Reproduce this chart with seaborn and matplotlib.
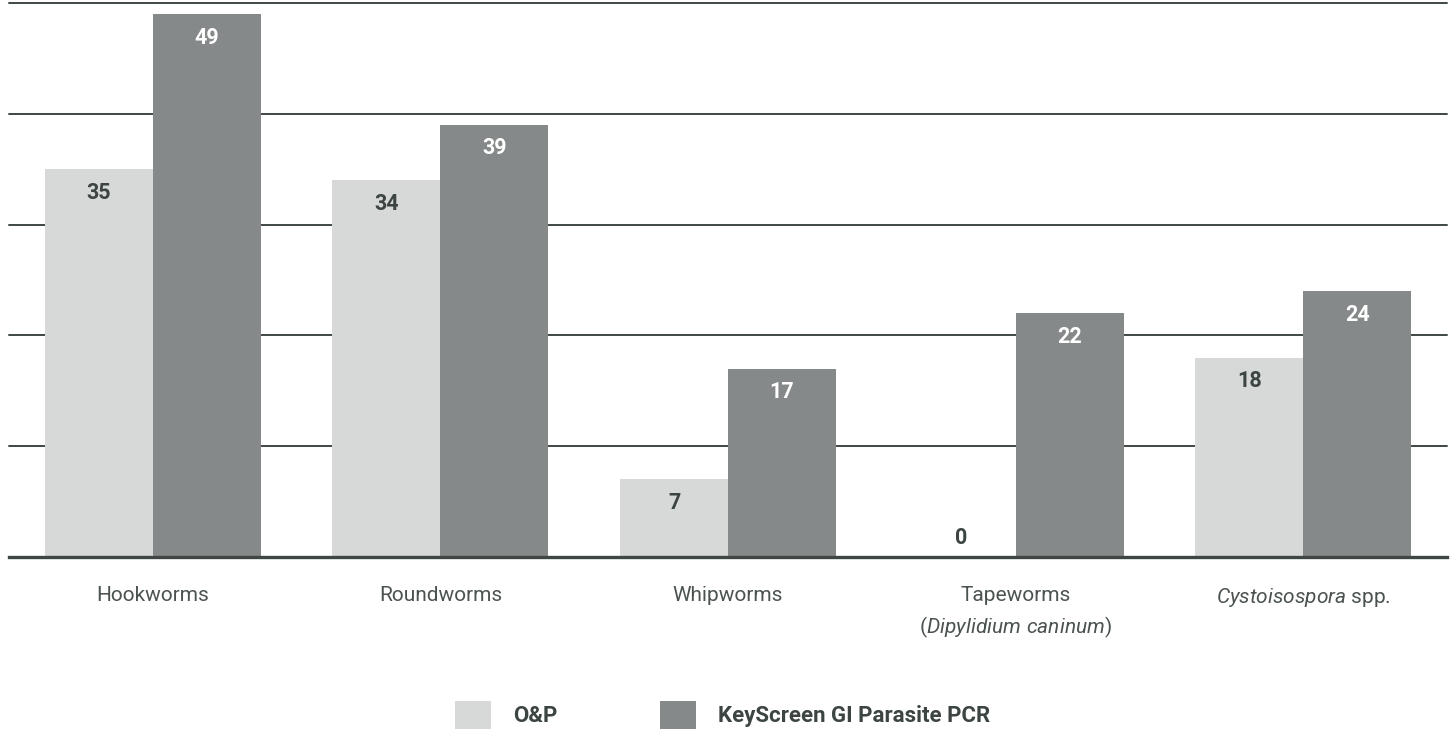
import numpy as np
import pandas as pd
import seaborn as sns
import matplotlib.pyplot as plt
from matplotlib.patches import Patch

categories = ["Hookworms", "Roundworms", "Whipworms",
              "Tapeworms\n($\\mathit{Dipylidium\\ caninum}$)",
              "$\\mathit{Cystoisospora}$ spp."]
methods = ["O&P", "KeyScreen GI Parasite PCR"]
op_values = [35, 34, 7, 0, 18]
pcr_values = [49, 39, 17, 22, 24]
yticks = [0, 10, 20, 30, 40, 50]

light = "#d7d9d8"
dark = "#868989"
text_dark = "#3c4541"
grid_col = "#3f4744"

sns.set_theme(style="white")
plt.rcParams["font.family"] = ["Roboto", "DejaVu Sans"]
plt.rcParams["mathtext.fontset"] = "custom"
plt.rcParams["mathtext.rm"] = "Roboto"
plt.rcParams["mathtext.it"] = "Roboto:italic"

df = pd.DataFrame({
    "cat": categories * 2,
    "method": [methods[0]] * 5 + [methods[1]] * 5,
    "value": op_values + pcr_values,
})

fig = plt.figure(figsize=(14.53, 7.33), dpi=100)
ax = fig.add_axes([9 / 1453, 1 - 557 / 733, 1438 / 1453, 554 / 733])

sns.barplot(data=df, x="cat", y="value", hue="method", palette=[light, dark],
            width=0.751, saturation=1, ax=ax, legend=False, errorbar=None,
            linewidth=0, edgecolor="none")

ax.set_ylim(0, 50)
ax.set_xlim(-0.5, 4.5)
for y in yticks[1:]:
    ax.axhline(y, color=grid_col, lw=1.4, zorder=0, clip_on=False)
for s in ["top", "right", "left"]:
    ax.spines[s].set_visible(False)
ax.spines["bottom"].set_color(grid_col)
ax.spines["bottom"].set_linewidth(2.4)
ax.spines["bottom"].set_zorder(5)
ax.set_yticks([])
ax.set_xlabel("")
ax.set_ylabel("")
ax.tick_params(axis="x", length=0, pad=21, labelsize=15, labelcolor="#4b5350")
for lbl in ax.get_xticklabels():
    lbl.set_linespacing(1.5)

# value labels inside the bars
for cont, col in zip(ax.containers, [text_dark, "white"]):
    for p in cont.patches:
        x = p.get_x() + p.get_width() / 2
        h = p.get_height()
        off = -17 if h > 0 else 13.5
        ax.annotate(f"{h:.0f}", (x, h), xytext=(0, off), textcoords="offset points",
                    ha="center", va="center", fontsize=15.5, fontweight="bold", color=col)

handles = [Patch(facecolor=light, edgecolor="none"), Patch(facecolor=dark, edgecolor="none")]
leg = fig.legend(handles, methods, ncol=2, loc="center left",
                 bbox_to_anchor=(455 / 1453, 1 - 715 / 733), frameon=False,
                 borderpad=0, borderaxespad=0, handlelength=1.62, handleheight=1.62,
                 handletextpad=0.99, columnspacing=4.6,
                 prop={"size": 16, "weight": "bold"})
for t in leg.get_texts():
    t.set_color(text_dark)

fig.savefig("out.png", dpi=100)
